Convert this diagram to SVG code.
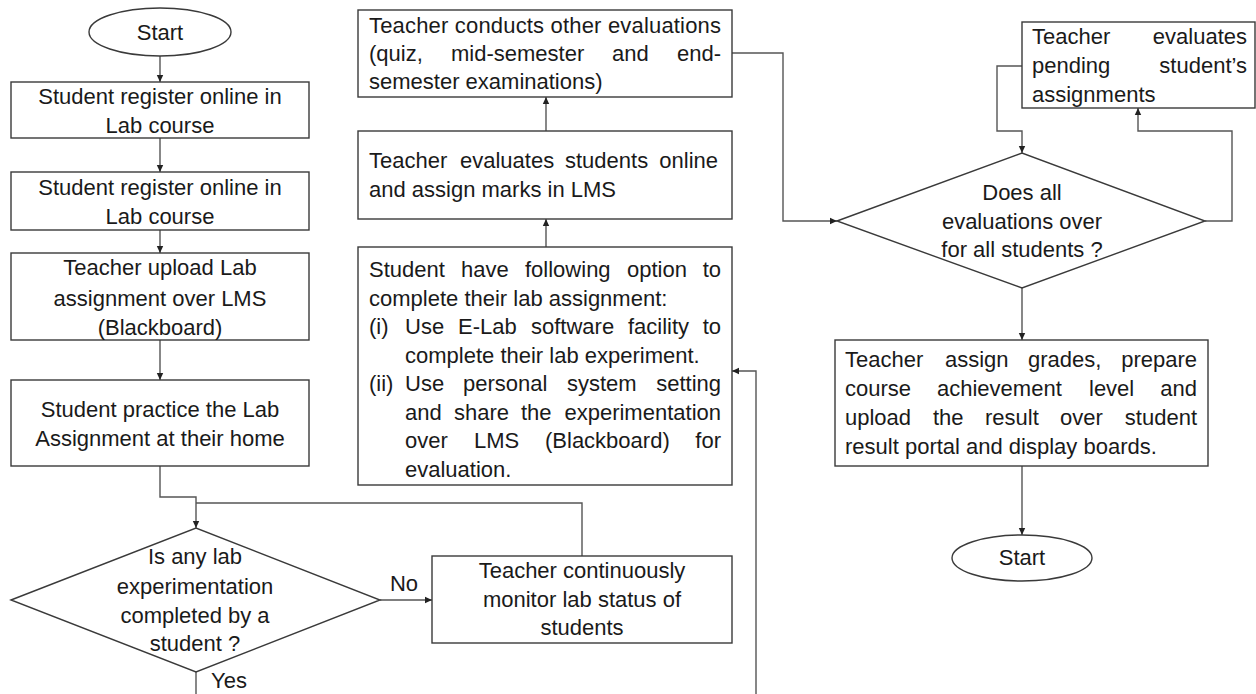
<svg xmlns="http://www.w3.org/2000/svg" width="1256" height="694" viewBox="0 0 1256 694">
<defs>
<marker id="ah" markerUnits="userSpaceOnUse" markerWidth="8" markerHeight="8" refX="7" refY="4" orient="auto">
<path d="M0,0.8 L7,4 L0,7.2 z" fill="#222"/>
</marker>
<style>
.box{fill:#fff;stroke:#3a3a3a;stroke-width:1.4}
.t{font-family:"Liberation Sans",Arial,sans-serif;font-size:22px;fill:#1a1a1a}
.c{text-anchor:middle}
.e{text-anchor:end}
.ln{fill:none;stroke:#555;stroke-width:1.4}
.arr{marker-end:url(#ah)}
</style>
</defs>
<rect width="1256" height="694" fill="#fff"/>

<g id="connectors">
<path class="ln arr" d="M160,56 V82"/>
<path class="ln arr" d="M160,138 V172"/>
<path class="ln arr" d="M160,230 V253"/>
<path class="ln arr" d="M160,340 V380"/>
<path class="ln arr" d="M160,466 V497 H196 V528"/>
<path class="ln" d="M582,556 V503 H196"/>
<path class="ln arr" d="M380,600 H432"/>
<path class="ln" d="M196,672 V694"/>
<path class="ln arr" d="M756,694 V371 H732"/>
<path class="ln arr" d="M546,247 V219"/>
<path class="ln arr" d="M546,131 V97"/>
<path class="ln arr" d="M732,53 H783 V221 H837"/>
<path class="ln arr" d="M1205,221 H1232 V131 H1138 V108"/>
<path class="ln arr" d="M1022,66 H997 V131 H1022 V153"/>
<path class="ln arr" d="M1022,288 V340"/>
<path class="ln arr" d="M1022,466 V535"/>
<text class="t c" x="404" y="591">No</text>
<text class="t c" x="229" y="688">Yes</text>
</g>

<g id="start1">
<ellipse class="box" cx="160" cy="32" rx="71" ry="24"/>
<text class="t c" x="160" y="40">Start</text>
</g>

<g id="reg1">
<rect class="box" x="11" y="82" width="298" height="56"/>
<text class="t c" x="160" y="104">Student register online in</text>
<text class="t c" x="160" y="133">Lab course</text>
</g>

<g id="reg2">
<rect class="box" x="11" y="172" width="298" height="58"/>
<text class="t c" x="160" y="195">Student register online in</text>
<text class="t c" x="160" y="224">Lab course</text>
</g>

<g id="upload">
<rect class="box" x="11" y="253" width="298" height="87"/>
<text class="t c" x="160" y="275">Teacher upload Lab</text>
<text class="t c" x="160" y="306">assignment over LMS</text>
<text class="t c" x="160" y="335">(Blackboard)</text>
</g>

<g id="practice">
<rect class="box" x="11" y="380" width="298" height="86"/>
<text class="t c" x="160" y="417">Student practice the Lab</text>
<text class="t c" x="160" y="446">Assignment at their home</text>
</g>

<g id="decision1">
<polygon class="box" points="11,600 196,528 380,600 196,672"/>
<text class="t c" x="195" y="564">Is any lab</text>
<text class="t c" x="195" y="594">experimentation</text>
<text class="t c" x="195" y="623">completed by a</text>
<text class="t c" x="195" y="651">student ?</text>
</g>

<g id="monitor">
<rect class="box" x="432" y="556" width="300" height="87"/>
<text class="t c" x="582" y="578">Teacher continuously</text>
<text class="t c" x="582" y="607">monitor lab status of</text>
<text class="t c" x="582" y="635">students</text>
</g>

<g id="options">
<rect class="box" x="358" y="247" width="374" height="238"/>
<text class="t" y="277"><tspan x="369">Student</tspan><tspan x="461">have</tspan><tspan x="525">following</tspan><tspan x="627">option</tspan><tspan x="721" class="e">to</tspan></text>
<text class="t" x="369" y="305.5">complete their lab assignment:</text>
<text class="t" y="334"><tspan x="369">(i)</tspan><tspan x="405">Use</tspan><tspan x="458">E-Lab</tspan><tspan x="531">software</tspan><tspan x="628">facility</tspan><tspan x="721" class="e">to</tspan></text>
<text class="t" x="405" y="362.5">complete their lab experiment.</text>
<text class="t" y="391"><tspan x="369">(ii)</tspan><tspan x="405">Use</tspan><tspan x="463">personal</tspan><tspan x="567">system</tspan><tspan x="721" class="e">setting</tspan></text>
<text class="t" y="419.5"><tspan x="405">and</tspan><tspan x="454">share</tspan><tspan x="521">the</tspan><tspan x="721" class="e">experimentation</tspan></text>
<text class="t" y="448"><tspan x="405">over</tspan><tspan x="474">LMS</tspan><tspan x="545">(Blackboard)</tspan><tspan x="721" class="e">for</tspan></text>
<text class="t" x="405" y="476.5">evaluation.</text>
</g>

<g id="evaluate">
<rect class="box" x="358" y="131" width="374" height="88"/>
<text class="t" y="168"><tspan x="369">Teacher</tspan><tspan x="460">evaluates</tspan><tspan x="565">students</tspan><tspan x="718" class="e">online</tspan></text>
<text class="t" x="369" y="197">and assign marks in LMS</text>
</g>

<g id="other">
<rect class="box" x="358" y="10" width="374" height="87"/>
<text class="t" x="369" y="33" textLength="352" lengthAdjust="spacing">Teacher conducts other evaluations</text>
<text class="t" y="61"><tspan x="369">(quiz,</tspan><tspan x="451">mid-semester</tspan><tspan x="612">and</tspan><tspan x="721" class="e">end-</tspan></text>
<text class="t" x="369" y="89">semester examinations)</text>
</g>

<g id="decision2">
<polygon class="box" points="837,221 1022,153 1205,221 1022,288"/>
<text class="t c" x="1022" y="200">Does all</text>
<text class="t c" x="1022" y="229">evaluations over</text>
<text class="t c" x="1022" y="257">for all students ?</text>
</g>

<g id="pending">
<rect class="box" x="1022" y="22" width="233" height="86"/>
<text class="t" y="44"><tspan x="1032">Teacher</tspan><tspan x="1247" class="e">evaluates</tspan></text>
<text class="t" y="73"><tspan x="1032">pending</tspan><tspan x="1247" class="e">student’s</tspan></text>
<text class="t" x="1032" y="102">assignments</text>
</g>

<g id="grades">
<rect class="box" x="835" y="340" width="373" height="126"/>
<text class="t" y="367"><tspan x="845">Teacher</tspan><tspan x="945">assign</tspan><tspan x="1028">grades,</tspan><tspan x="1197" class="e">prepare</tspan></text>
<text class="t" y="396"><tspan x="845">course</tspan><tspan x="937">achievement</tspan><tspan x="1089">level</tspan><tspan x="1197" class="e">and</tspan></text>
<text class="t" y="425"><tspan x="845">upload</tspan><tspan x="933">the</tspan><tspan x="985">result</tspan><tspan x="1060">over</tspan><tspan x="1197" class="e">student</tspan></text>
<text class="t" x="845" y="454">result portal and display boards.</text>
</g>

<g id="end">
<ellipse class="box" cx="1022" cy="558" rx="70" ry="23"/>
<text class="t c" x="1022" y="565">Start</text>
</g>
</svg>
